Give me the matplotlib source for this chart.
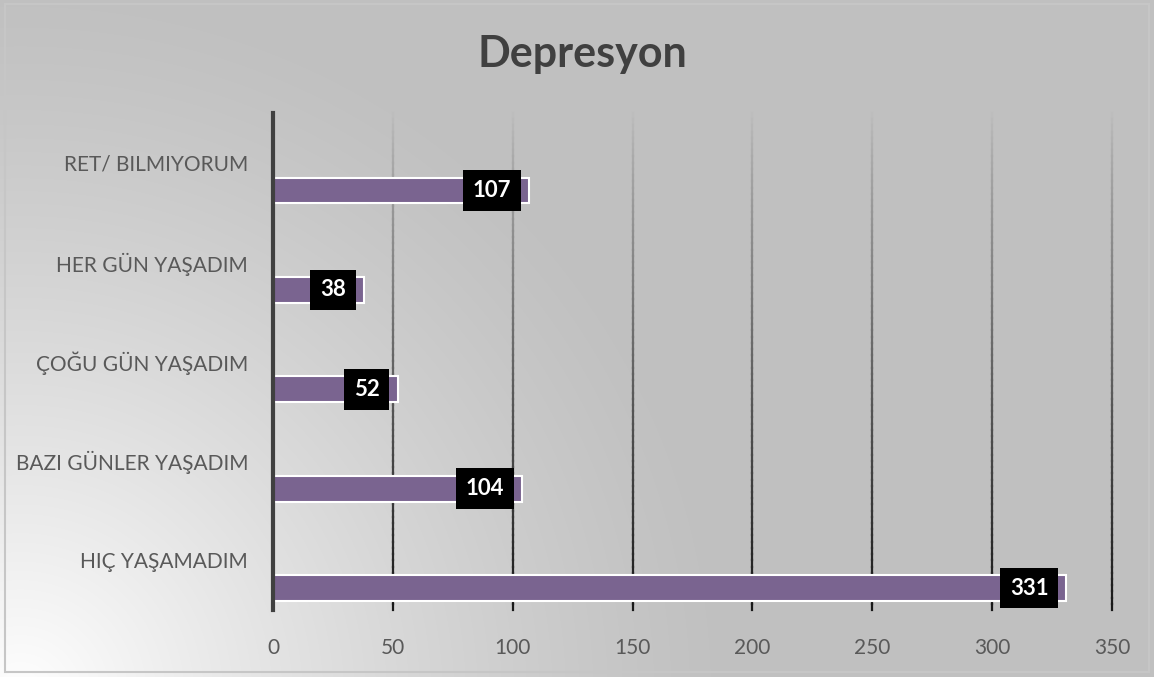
import numpy as np
import matplotlib.pyplot as plt
from matplotlib.collections import LineCollection
from matplotlib.patches import Rectangle

plt.rcParams['font.family'] = ['Lato', 'DejaVu Sans']

categories = ['HIÇ YAŞAMADIM', 'BAZI GÜNLER YAŞADIM', 'ÇOĞU GÜN YAŞADIM',
              'HER GÜN YAŞADIM', 'RET/ BILMIYORUM']
values = [331, 104, 52, 38, 107]
xticks = [0, 50, 100, 150, 200, 250, 300, 350]

W, H = 1154, 677
fig = plt.figure(figsize=(W / 100, H / 100), dpi=100)
fig.patch.set_facecolor('white')

# radial background, light in the lower left corner
bg = fig.add_axes([0, 0, 1, 1], zorder=-10)
bg.set_axis_off()
yy, xx = np.mgrid[0:H, 0:W]
r = np.hypot(xx - 20, yy - (H + 20))
t = np.clip(1 - r / 720, 0, 1) ** 1.3
shade = 0.753 + (1.0 - 0.753) * t
img = np.dstack([shade, shade, shade])
bg.imshow(img, extent=[0, W, H, 0], aspect='auto', interpolation='bilinear')
bg.set_xlim(0, W)
bg.set_ylim(H, 0)
bg.add_patch(Rectangle((5, 4), W - 10, H - 9, fill=False,
                       ec='#c6c6c6', lw=1.5))

ax = fig.add_axes([273 / W, 1 - 610 / H, (1112 - 273) / W, (610 - 113) / H])
ax.patch.set_alpha(0)
ax.set_xlim(0, 350)
ax.set_ylim(-0.5, 4.5)

# gridlines fading from light at the top to dark at the bottom
n = 80
ys = np.linspace(4.5, -0.5, n + 1)
segs, cols = [], []
for x in xticks[1:]:
    for k in range(n):
        segs.append([(x, ys[k]), (x, ys[k + 1])])
        c = 0.74 - 0.64 * (k / (n - 1)) ** 0.9
        cols.append((c, c, c))
grid = LineCollection(segs, colors=cols, linewidths=1.6, zorder=1,
                      capstyle='projecting')
grid.set_clip_on(False)
ax.add_collection(grid)

pos = np.arange(len(categories))
ax.barh(pos - 0.28, values, height=0.26, color='#7a6490',
        edgecolor='white', linewidth=1.5, zorder=3)

for p, v in zip(pos, values):
    ax.annotate(str(v), xy=(v, p - 0.28), xytext=(-18, 0),
                textcoords='offset pixels', ha='right', va='center',
                fontsize=16, fontweight='bold', color='white', zorder=5,
                bbox=dict(boxstyle='square,pad=0.44', fc='black', ec='none'))

for s in ['top', 'right', 'bottom']:
    ax.spines[s].set_visible(False)
ax.spines['left'].set_color('#404040')
ax.spines['left'].set_linewidth(3)
ax.spines['left'].set_zorder(4)

ax.set_xticks(xticks)
ax.set_yticks(pos)
ax.set_yticklabels(categories)
ax.tick_params(axis='both', length=0, labelsize=15, colors='#595959')
ax.tick_params(axis='x', pad=20)
ax.tick_params(axis='y', pad=18)

fig.text(582 / W, 1 - 54 / H, 'Depresyon', ha='center', va='center',
         fontsize=31, fontweight='bold', color='#404040')

fig.savefig('out.png', dpi=100)
